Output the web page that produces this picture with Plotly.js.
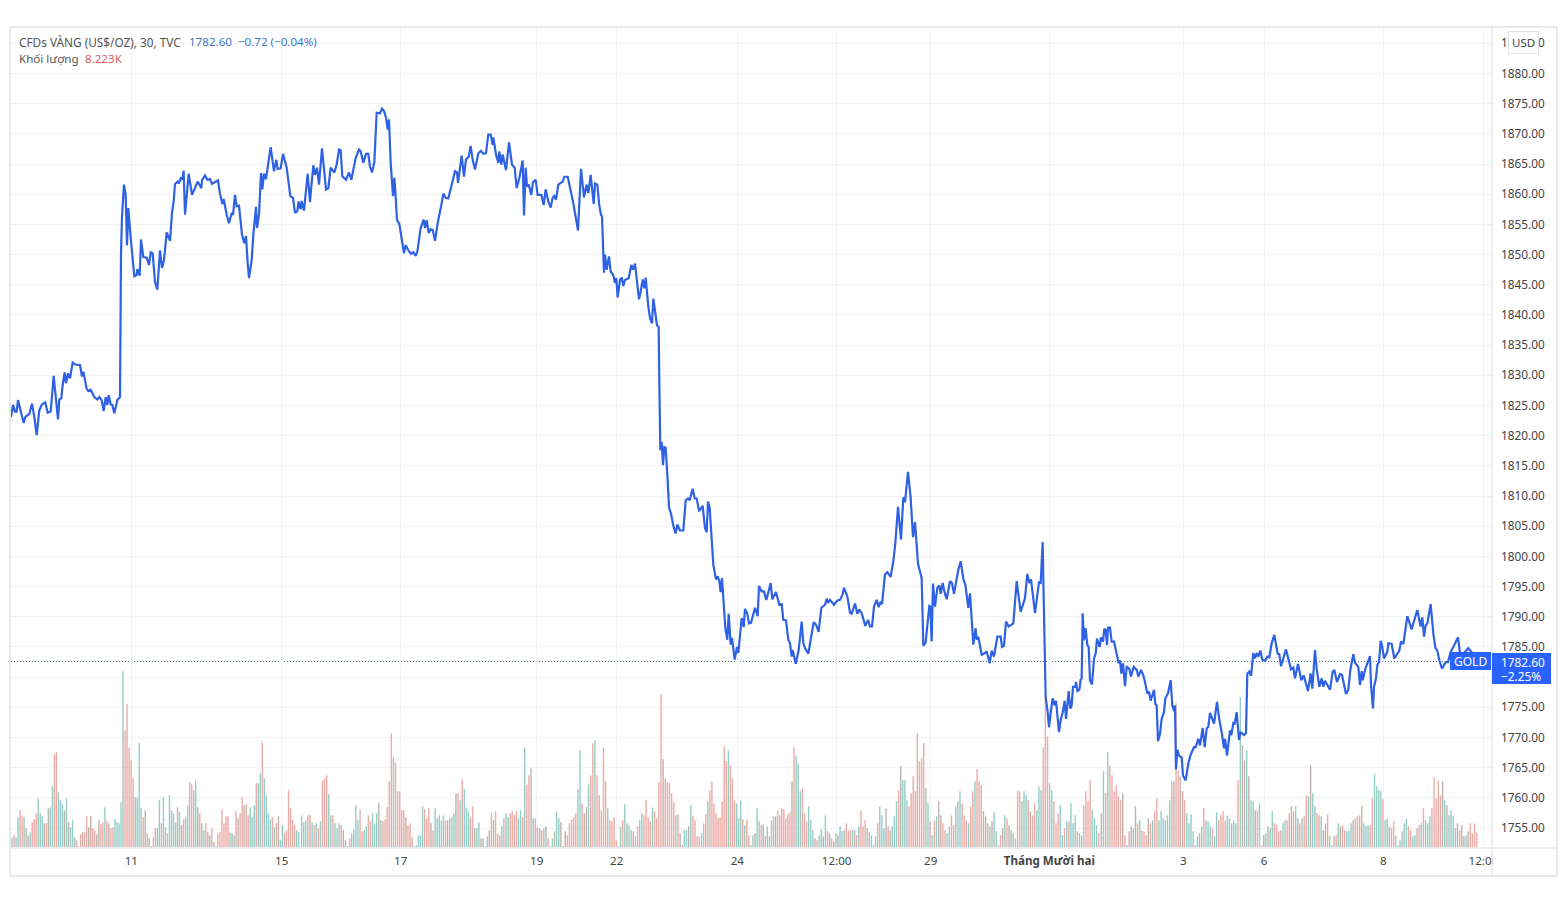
<!DOCTYPE html>
<html>
<head>
<meta charset="utf-8">
<script src="https://cdn.plot.ly/plotly-3.0.1.min.js"></script>
<style>html,body{margin:0;padding:0;background:#fff}#chart{width:1566px;height:910px}</style>
</head>
<body>
<div id="chart"></div>
<script>
// [time position, price]
const priceEarlyNov = [[33,1823.1],[39,1825.1],[45,1824],[50,1824],[54,1825.9],[60,1824.5],[66,1822.9],[71,1822.1],[76,1823.1],[88,1823.6],[96,1825.3],[103,1823.1],[110,1820.1],[118,1824.2],[126,1825.2],[136,1825.5],[143,1823.8],[152,1824],[161,1829.9],[167,1826.4],[174,1822.7],[178,1826],[184,1826.2],[188,1828.4],[194,1830.5],[198,1828.7],[204,1830.3],[210,1829.5],[218,1832.1],[226,1831.8],[240,1831.7],[246,1829.8],[250,1830.6],[260,1827.8],[265,1827.4],[272,1827.6],[283,1826.4],[292,1826],[298,1826.4],[305,1825.9],[311,1824.1],[317,1826.4],[322,1825.1],[326,1826.7],[332,1825.2],[337,1825.1],[343,1823.7],[352,1825.9],[360,1826.4],[363,1850.2],[366,1856.3],[372,1861.6],[377,1859.9],[381,1851.5],[385,1857.7],[390,1854.1],[397,1850.2],[403,1846.4],[410,1846.6],[412,1847.6],[419,1846.5],[423,1852.5],[430,1849.6],[440,1849.5],[447,1848.3],[452,1850.4],[458,1850.2],[465,1845.5],[472,1844.2],[480,1850.7],[486,1847.8],[492,1849.1],[500,1853.7],[510,1852.3],[516,1856.9],[521,1858.8],[525,1861.7],[533,1862.1],[537,1861.8],[543,1862.8],[547,1862.4],[551,1863.9],[555,1856.6],[566,1863.4],[576,1859.9],[590,1861.6],[593,1862.1],[604,1861],[606,1862.3],[615,1863.1],[622,1862.4],[630,1862.5],[636,1861.7],[654,1862.3],[660,1860.1],[667,1858.4],[671,1859.2],[680,1856.6],[687,1855.2],[695,1856.9],[699,1856.6],[705,1859.9],[710,1858],[717,1858.1],[726,1853.3],[733,1851.9],[738,1853.1],[743,1848.6],[747,1846.1],[755,1849.1],[760,1853.3],[768,1857.9],[771,1854.4],[777,1856.6],[783,1863.5],[787,1860.8],[792,1863.4],[798,1862.5],[805,1865.2],[812,1867.8],[822,1863.8],[829,1865.7],[833,1864.2],[842,1864.3],[849,1866.7],[860,1864.4],[871,1859.7],[879,1859.4],[885,1856.9],[892,1857.2],[896,1858.8],[902,1857.5],[905,1858.9],[912,1857.3],[923,1863.4],[930,1858.7],[934,1861.3],[940,1864.8],[945,1863.2],[951,1864.4],[957,1861.6],[966,1867.6],[978,1860.8],[985,1861],[992,1864.4],[1003,1863.6],[1010,1864.9],[1017,1867.4],[1022,1867.3],[1027,1863],[1038,1862.4],[1047,1863.6],[1054,1862.4],[1067,1866],[1077,1867.4],[1082,1867.1],[1090,1865.2],[1098,1866.7],[1105,1866.7],[1110,1864.6],[1116,1863.6],[1123,1865.3],[1130,1873.5],[1140,1873.4],[1146,1874.2],[1152,1873.8],[1158,1872.7],[1163,1870.7],[1167,1872.4],[1172,1865.2],[1179,1859.7],[1183,1862.7],[1186,1860.5],[1191,1855.7],[1198,1855.1]];
const priceMidNov = [[1205,1852.5],[1212,1850.2],[1217,1851.6],[1224,1850.8],[1233,1850.1],[1240,1850.4],[1247,1849.8],[1252,1850.5],[1262,1854.4],[1271,1855.8],[1275,1854.4],[1280,1855.7],[1286,1853.6],[1292,1854.2],[1298,1854.1],[1305,1852.3],[1313,1855.2],[1320,1856.9],[1325,1858.5],[1330,1860.1],[1337,1859.4],[1345,1859.3],[1365,1863.8],[1371,1863.6],[1374,1861.9],[1385,1866.4],[1392,1862.9],[1398,1865.8],[1406,1866.2],[1412,1868],[1418,1865.7],[1425,1864.1],[1435,1866.8],[1443,1867.2],[1450,1866.7],[1458,1866.8],[1465,1869.9],[1472,1869.9],[1478,1868.2],[1480,1869.4],[1488,1866.6],[1495,1865.2],[1498,1867.1],[1504,1864.9],[1508,1866.6],[1518,1864],[1527,1868.6],[1536,1864.9],[1544,1864.4],[1550,1861],[1558,1862.7],[1568,1865.6],[1572,1856.5],[1577,1864.4],[1581,1861.3],[1586,1861.6],[1594,1859.9],[1599,1862],[1607,1862.4],[1613,1859.9],[1624,1859.9],[1631,1858.2],[1637,1860.8],[1645,1858.8],[1652,1857.8],[1658,1859.4],[1663,1859.7],[1668,1859.1],[1675,1861.6],[1688,1862.1],[1693,1862.9],[1703,1862.9],[1710,1861.2],[1720,1858.5],[1734,1854],[1743,1864.2],[1752,1859.5],[1760,1861.6],[1765,1860.2],[1772,1863.2],[1781,1858.4],[1785,1861.8],[1792,1861.6],[1798,1858.1],[1803,1856.6],[1806,1856.3],[1812,1847],[1815,1850],[1820,1847.5],[1827,1849.7],[1832,1847.2],[1840,1846.6],[1845,1845.3],[1849,1846.1],[1853,1842.9],[1860,1845.8],[1865,1846.2],[1870,1844.8],[1875,1845.8],[1886,1846.1],[1894,1848.3],[1899,1847.5],[1905,1848.5],[1917,1842.6],[1922,1843.9],[1928,1845.9],[1933,1844.4],[1937,1846.2],[1945,1841.4],[1950,1839.5],[1956,1838.6],[1960,1842.7],[1971,1838.3],[1976,1838],[1978,1828.7],[1981,1817.6],[1985,1819],[1989,1815.1],[1993,1818.1],[1997,1818],[2003,1812.6],[2007,1808.1],[2013,1807.1],[2020,1805.1],[2027,1803.8],[2032,1805.3],[2040,1804.3],[2050,1804.3],[2057,1809.3],[2064,1809.6],[2069,1809.3],[2078,1811.2],[2084,1809.6],[2090,1809.6],[2097,1807.6]];
const priceLateNov = [[2100,1807.7],[2108,1808.4],[2115,1804.7],[2120,1804],[2124,1809.1],[2129,1808.1],[2134,1802.8],[2140,1798.6],[2148,1796.2],[2153,1796.7],[2158,1795.9],[2162,1794.1],[2166,1796.4],[2172,1791.7],[2176,1788.1],[2182,1786.2],[2186,1790.5],[2192,1785.4],[2196,1786.5],[2204,1782.9],[2211,1785],[2215,1784],[2225,1789.8],[2231,1788.3],[2235,1791.3],[2242,1790.5],[2247,1788.9],[2253,1789],[2265,1791.5],[2273,1790.1],[2277,1795.1],[2285,1794.2],[2292,1794.2],[2299,1792.8],[2312,1795.6],[2317,1792.9],[2328,1794.1],[2338,1792],[2345,1792.1],[2350,1789.5],[2358,1789.4],[2365,1786.2],[2370,1785.6],[2375,1783.4],[2378,1784.5],[2387,1782.2],[2396,1784.5],[2405,1789.2],[2410,1785.6],[2415,1784.8],[2425,1783.9],[2441,1789.1],[2448,1788.7],[2456,1787.5],[2464,1791.5],[2475,1792],[2480,1793],[2484,1792.3],[2490,1792.8],[2502,1792],[2512,1792.7],[2520,1792.8],[2528,1793.7],[2532,1794.8],[2542,1793.4],[2550,1790.7],[2555,1790.5],[2559,1791.2],[2565,1792.2],[2572,1790.5],[2578,1791.2],[2585,1790.6],[2596,1788.5],[2604,1789.5],[2610,1788.4],[2616,1788.4],[2622,1791.7],[2630,1792.8],[2636,1791.6],[2642,1792.5],[2646,1792.1],[2655,1797],[2662,1797.4],[2672,1796.6],[2680,1799.2],[2686,1802.2],[2694,1808.2],[2703,1802.8],[2710,1809.8],[2715,1809],[2724,1814],[2732,1809.7],[2739,1803.2],[2745,1805.7],[2754,1798.8],[2765,1796.4],[2770,1785.2],[2777,1785.8],[2788,1791.8],[2791,1791.7],[2795,1785.9],[2799,1795.5],[2805,1791.7],[2812,1794.8],[2818,1795.2],[2822,1793.8],[2828,1795.6],[2834,1794],[2840,1792.9],[2850,1795.9],[2856,1795.6],[2862,1793.8],[2875,1797.8],[2882,1799.2],[2890,1796.3],[2896,1795.3],[2905,1791.5],[2910,1793.9],[2920,1785.4],[2927,1788.1],[2930,1786.2],[2935,1786.7],[2945,1783.7],[2955,1784],[2960,1784.3],[2969,1782.3],[2975,1784.4],[2982,1783.4],[2992,1786.7],[3002,1786.7],[3006,1785],[3012,1785.2],[3018,1789.2],[3026,1788.4],[3040,1788.9],[3050,1795.9],[3055,1793.7],[3062,1790.8],[3075,1793.1],[3082,1797.1],[3088,1795.6],[3093,1796.2],[3105,1790.6],[3110,1792.7],[3117,1795.7],[3122,1795.6],[3126,1802.4]];
const priceDec = [[3128,1802.4],[3130,1796.1],[3133,1789.5],[3135,1782.3],[3137,1776.7],[3143,1774.2],[3147,1771.7],[3153,1774.5],[3158,1776.5],[3164,1775.3],[3168,1776.1],[3177,1770.9],[3182,1772.9],[3188,1774.1],[3194,1776.1],[3198,1773.1],[3206,1777.7],[3211,1774.8],[3215,1775.3],[3219,1778.4],[3226,1778.4],[3228,1779.2],[3232,1777.7],[3238,1777.9],[3242,1779.6],[3245,1779.8],[3248,1790.6],[3252,1786.1],[3257,1788.1],[3262,1785.3],[3266,1785],[3270,1779.5],[3276,1778.8],[3282,1783.1],[3287,1783.9],[3291,1786.4],[3299,1785],[3303,1786.6],[3309,1785.9],[3313,1788],[3317,1787.8],[3321,1785.3],[3324,1788.2],[3330,1788.2],[3335,1785.9],[3342,1785.9],[3348,1784.5],[3356,1782.3],[3360,1782.8],[3364,1780.6],[3369,1782.3],[3375,1778.5],[3380,1781.7],[3388,1781.4],[3393,1780.1],[3401,1781.7],[3410,1781.2],[3415,1780.1],[3423,1781.2],[3430,1780.3],[3435,1779.2],[3442,1777.3],[3447,1777.6],[3452,1776.1],[3462,1777.9],[3466,1775.6],[3470,1775.3],[3474,1769.4],[3480,1770.6],[3485,1773.1],[3492,1774.2],[3496,1776.5],[3504,1777.3],[3512,1779.5],[3517,1775.3],[3522,1774.4],[3525,1775.3],[3528,1764.7],[3532,1768],[3537,1767],[3545,1766.7],[3549,1763.7],[3557,1762.9],[3565,1765.7],[3571,1767],[3582,1768.4],[3587,1768.4],[3595,1769.8],[3600,1768.7],[3608,1771.6],[3614,1768.4],[3620,1771.5],[3625,1771.8],[3630,1774.1],[3642,1772.3],[3651,1775.9],[3658,1772.9],[3665,1770.9],[3672,1768.2],[3675,1769.8],[3681,1767],[3690,1771.2],[3694,1770.4],[3700,1772.4],[3704,1772.3],[3710,1774.2],[3717,1769.6],[3722,1770.9],[3732,1770.4],[3738,1770.7],[3742,1780.6],[3748,1780.9],[3753,1780.2],[3760,1784],[3765,1783.1],[3770,1784],[3775,1783.4],[3781,1784.4],[3787,1782.9],[3795,1782.7],[3802,1783.4],[3808,1783.3],[3815,1785.6],[3823,1787],[3833,1783.9],[3838,1783.8],[3843,1781.8],[3858,1784.6],[3873,1781.3],[3880,1781.6],[3885,1779.8],[3894,1782.2],[3904,1779.5],[3911,1780.3],[3924,1777.7],[3932,1780.6],[3937,1778.1],[3945,1784.5],[3950,1781.4],[3958,1778.4],[3965,1779.8],[3970,1778.4],[3975,1779.4],[3990,1777.9],[3998,1780.9],[4003,1781.2],[4011,1779.2],[4020,1780.5],[4026,1780.4],[4038,1777.2],[4045,1777.9],[4051,1781.2],[4060,1783.8],[4065,1782.4],[4075,1781.7],[4080,1778.7],[4085,1781],[4088,1779.5],[4096,1781.4],[4110,1783.5],[4113,1778.7],[4119,1774.8],[4122,1778.4],[4128,1779.8],[4132,1782],[4137,1782.5],[4142,1786],[4146,1785.3],[4152,1783.1],[4162,1784.2],[4165,1785.6],[4175,1785.5],[4183,1783.1],[4198,1784.4],[4203,1785.9],[4210,1785.5],[4222,1790.1],[4235,1787.9],[4242,1789.3],[4252,1791.1],[4262,1788.4],[4267,1789.9],[4272,1786.7],[4277,1788.6],[4282,1788.9],[4292,1792.1],[4300,1787.2],[4306,1784.9],[4312,1784.4],[4318,1782.8],[4326,1781.4],[4337,1782.5],[4344,1782.5],[4352,1784.2],[4360,1785],[4365,1785.6],[4374,1786.6],[4380,1784],[4390,1783.9],[4405,1784.8],[4420,1783.8],[4430,1782.6]];

// Volume bars per stretch of the time axis (estimated, arbitrary scale; last bar = 8.223K)
const volumeEarlyNov = [10,12,10,30,37,32,30,19,12,15,25,28,34,49,34,31,24,24,39,40,61,93,95,55,47,43,37,49,25,20,27,10,7,1,13,15,15,31,20,31,19,17,13,27,23,25,40,27,24,19,20,28,25,24,45,176,117,143,100,87,69,50,50,104,39,30,37,14,9,1,10,19,19,47,24,50,20,14,52,37,34,25,40,35,22,28,30,42,65,63,57,67,40,34,24,17,24,15,12,19,5,1,14,15,38,24,31,31,15,14,12,36,29,34,50,42,43,32,40,30,42,64,64,74,105,69,52,34,28,30,20,24,31,7,22,14,17,57,39,28,22,17,15];
const volumeMidNovA = [32,25,27,32,32,25,22,24,19,26,67,69,72,53,32,32,24,19,24,22,17,7,1,9,14,18,42,27,38,16,17,21,32,26,34,24,34,44,27,26,28,40,66,114,90,85,56,56,37,37,30,22,24,10,1,2,12,12,41,38,29,39,24,17,39,29,32,27,32,27,27,29,30,34,54,54,47,68,58,40,36,30,41,19,19,25,9,9,1,11,17,34,27,36,14,12,21,29,34,30,34,36,32,36,29,37,30];
const volumeMidNovB = [100,62,72,79,29,29,20,19,17,19,21,9,1,9,16,36,29,25,1,16,12,24,28,30,34,58,97,44,34,40,63,72,104,107,72,52,37,100,66,39,27,26,30,7,1,21,27,43,24,22,17,16,11,21,27,34,32,47,30,26,40,36,29,65,153,88,69,65,64,54,45,32,33,14,2,17,17,21,42,31,27,11,11];
const volumeLateNovA = [14,24,33,46,57,66,44,34,29,30,46,101,86,97,82,69,47,44,29,47,28,22,27,12,2,12,14,39,26,22,23,11,21,11,27,31,31,37,32,39,38,29,33,35,66];
const volumeLateNovB = [100,91,84,56,59,34,26,41,27,17,9,7,12,18,11,32,16,14,9,6,14,12,21,16,17,24,17,17,17,17,12,21,37,21,27,19,15,12,2,11,24,41,32,19,39,21,17,21,31,46,57,81,67,67,47,41,54,71,56];
const volumeLateNovC = [114,86,89,104,59,44,26,12,27,31,46,32,24,17,14,21,32,22,41,46,56,44,32,27,24,41,56,66,78,66,62,36,31,24,21,26,35,16,2,12,19,32,29,22,17,14,9,57,56,46,56,52,47,36,32,44,37,61,57,100,154,111,64,57,46,24,34,42,12,19,26,26,44,24,32,16,14,12,42,56,46,67,37,29,22,14];
const volumeDecA = [34,76,54,95,82,72,56,62,51,47,54,12,2,16,21,19,41,24,27,17,16,12,29,24,27,36,49,27,36,29,27,32,47,66,66,144,77,71,56,47,34,24,33,16,2,11,14,21,39,27,26,21,19,11,35,27,32,36,27,32,29,24,27,24,67];
const volumeDecB = [150,102,87,97,71,47,46,37,37,44,2,12,14,21,19,36,24,22,16,17,24,27,27,34,41,36,41,29,24,29,31,52,51,82,54,41,34,32,31,17,24,33,11,2,11,12,24,21,22,17,16,17,24,27,29,31,32,41,24,21,22,22,49,73,61,57,56,48,27,29,21,19,26,12,2,7,16,24,29,21,17,11,12,19,22,24,39,27,24,31,39,70,49,66,52,66,47,42,32,37,31,19,24,17,22,11,12,16,24,14,24,15];
// time span of each stretch, in the same order
const volumeSpans = [[36,896],[905,1568],[1574,2098],[2105,2376],[2382,2746],[2752,3296],[3304,3714],[3721,4430]];

const tickTimes  = [394,845,1202,1610,1850,2212,2510,2792,3148,3550,3792,4150,4450];
const tickLabels = ['11','15','17','19','22','24','12:00','29','<b>Tháng Mười hai</b>','3','6','8','12:00'];
const priceTicks = [1755,1760,1765,1770,1775,1780,1785,1790,1795,1800,1805,1810,1815,1820,1825,1830,1835,1840,1845,1850,1855,1860,1865,1870,1875,1880,1885];
const lastPrice = 1782.60;

const pricePts = priceEarlyNov.concat(priceMidNov, priceLateNov, priceDec);
const lineX = pricePts.map(p => p[0]), lineY = pricePts.map(p => p[1]);

function priceAt(t){
  for(let i=1;i<pricePts.length;i++){
    if(t<=pricePts[i][0]){
      const a=pricePts[i-1], b=pricePts[i];
      return a[1]+(b[1]-a[1])*(t-a[0])/(b[0]-a[0]);
    }
  }
  return lastPrice;
}
const barX=[], barY=[], barC=[];
[volumeEarlyNov,volumeMidNovA,volumeMidNovB,volumeLateNovA,volumeLateNovB,volumeLateNovC,volumeDecA,volumeDecB].forEach((vals,s)=>{
  const [a,b]=volumeSpans[s];
  vals.forEach((v,i)=>{
    const t=a+(b-a)*i/(vals.length-1);
    const d=priceAt(t+3)-priceAt(t-3);
    barX.push(t); barY.push(v);
    barC.push(Math.abs(d)<0.35?'rgb(191,178,172)':(d>0?'rgb(150,204,198)':'rgb(234,172,167)'));
  });
});

const FONT='"Noto Sans","Open Sans",sans-serif';
const G='#f1f2f5', B='#e8e9ec', BLUE='#2962ff';
const px=v=>(v-11)/1481, py=v=>(848-v)/820;
function box(x0,y0,x1,y1,fill){return {type:'rect',xref:'paper',yref:'paper',x0:px(x0),x1:px(x1),y0:py(y1),y1:py(y0),fillcolor:fill,line:{width:0},layer:'above'};}
function seg(x0,y0,x1,y1,c,w){return {type:'line',xref:'paper',yref:'paper',x0:px(x0),x1:px(x1),y0:py(y0),y1:py(y1),line:{color:c,width:w},layer:'above'};}

const traces=[
 {type:'bar',x:barX,y:barY,width:4.2,marker:{color:barC,line:{width:0}},xaxis:'x',yaxis:'y',hoverinfo:'skip',showlegend:false},
 {type:'scatter',mode:'lines',x:lineX,y:lineY,line:{color:'#2f62e3',width:2.2},xaxis:'x',yaxis:'y2',hoverinfo:'skip',showlegend:false}
];
const layout={
 width:1566,height:910,paper_bgcolor:'#fff',plot_bgcolor:'#fff',showlegend:false,
 margin:{l:11,r:74,t:28,b:62,pad:0},
 font:{family:FONT,size:12,color:'#444'},
 xaxis:{range:[33,4476],tickmode:'array',tickvals:tickTimes,ticktext:tickLabels,ticks:'',ticklabelstandoff:4,showgrid:true,gridcolor:G,gridwidth:1,zeroline:false,showline:false,tickangle:0,tickfont:{family:FONT,size:11.6,color:'#444'},fixedrange:true},
 yaxis:{range:[-0.7,819.3],visible:false,showgrid:false,zeroline:false,fixedrange:true},
 yaxis2:{overlaying:'y',side:'right',anchor:'x',range:[1751.7,1887.54],tickmode:'array',tickvals:priceTicks,ticktext:priceTicks.map(v=>v===1780?'':v.toFixed(2)),ticks:'',ticklen:0,ticklabelstandoff:8,showgrid:true,gridcolor:G,gridwidth:1,zeroline:false,showline:false,tickfont:{family:FONT,size:11.8,color:'#444'},fixedrange:true},
 shapes:[
  {type:'line',xref:'paper',yref:'y2',x0:0,x1:1,y0:lastPrice,y1:lastPrice,line:{color:'#4a6da8',width:1,dash:'1px,2px'},layer:'below'},
  box(1493,849,1503,875,'#fff'),
  seg(10,27,1557,27,B,2), seg(10,876,1557,876,B,2), seg(10,27,10,876,B,2), seg(1557,27,1557,876,B,2),
  seg(1492,27,1492,876,B,1.5), seg(10,848,1557,848,B,1.5),
  box(1450,652,1491,670,BLUE), box(1492,653,1551,684,BLUE)
 ],
 annotations:[
  {xref:'paper',yref:'paper',x:px(16.5),y:py(41.5),xanchor:'left',yanchor:'middle',showarrow:false,align:'left',font:{family:FONT,size:11.8,color:'#555'},
   text:'CFDs VÀNG (US$/OZ), 30, TVC'},
  {xref:'paper',yref:'paper',x:px(186.5),y:py(41.5),xanchor:'left',yanchor:'middle',showarrow:false,align:'left',font:{family:FONT,size:11.6,color:'#3f74c8'},
   text:'1782.60  −0.72 (−0.04%)'},
  {xref:'paper',yref:'paper',x:px(16.5),y:py(58.5),xanchor:'left',yanchor:'middle',showarrow:false,align:'left',font:{family:FONT,size:11.6,color:'#555'},
   text:'Khối lượng'},
  {xref:'paper',yref:'paper',x:px(83),y:py(58.5),xanchor:'left',yanchor:'middle',showarrow:false,align:'left',font:{family:FONT,size:11.6,color:'#d9605a'},
   text:'8.223K'},
  {xref:'paper',yref:'paper',x:px(1523.5),y:py(42.5),xanchor:'center',yanchor:'middle',showarrow:false,text:'USD',bgcolor:'#fff',bordercolor:'#dfe1e6',borderwidth:1,borderpad:3,font:{family:FONT,size:11.5,color:'#444'}},
  {xref:'paper',yref:'paper',x:px(1470.5),y:py(661),xanchor:'center',yanchor:'middle',showarrow:false,text:'GOLD',font:{family:FONT,size:12,color:'#fff'}},
  {xref:'paper',yref:'paper',x:px(1523),y:py(661.5),xanchor:'center',yanchor:'middle',showarrow:false,text:'1782.60',font:{family:FONT,size:11.8,color:'#fff'}},
  {xref:'paper',yref:'paper',x:px(1521),y:py(675.5),xanchor:'center',yanchor:'middle',showarrow:false,text:'−2.25%',font:{family:FONT,size:11.8,color:'#fff'}}
 ]
};
Plotly.newPlot('chart',traces,layout,{displayModeBar:false,staticPlot:true,responsive:false});
</script>
</body>
</html>
